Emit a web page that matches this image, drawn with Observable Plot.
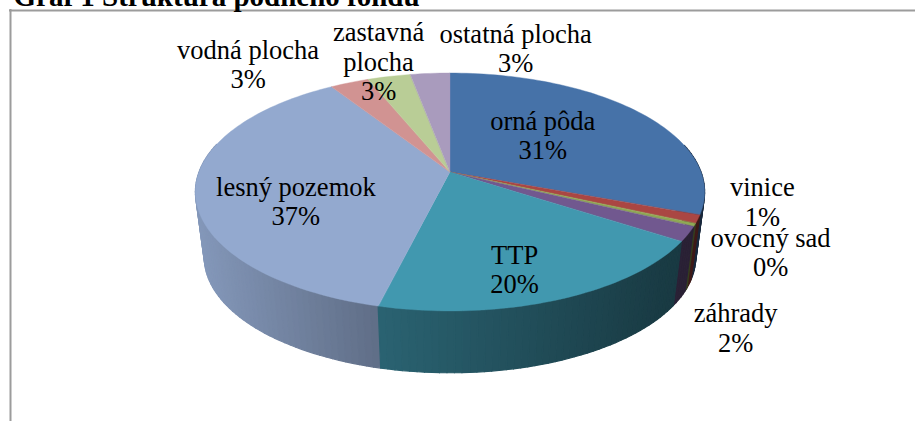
<!DOCTYPE html>
<html><head><meta charset="utf-8">
<script src="https://cdn.jsdelivr.net/npm/d3@7"></script>
<script src="https://cdn.jsdelivr.net/npm/@observablehq/plot@0.6"></script>
<style>html,body{margin:0;padding:0;background:#fff;overflow:hidden}svg{display:block}</style>
</head><body><div id="chart"></div>
<script>
const categories = ["orná pôda","vinice","ovocný sad","záhrady","TTP","lesný pozemok","vodná plocha","zastavná plocha","ostatná plocha"];
const shares = [30.7,1.1,0.4,2.0,19.65,37.1,2.9,3.2,2.95];
const colours = ["#4672a8","#aa4643","#8fa954","#71588f","#4198af","#93a9cf","#d19392","#b9cd96","#a99bbd"];
const labelLines = ["orná pôda","vinice","ovocný sad","záhrady","TTP","lesný pozemok","vodná plocha","zastavná\nplocha","ostatná plocha"];
const labelShift = [[-96,22.5],[64,-18],[75.5,26.5],[47,93],[-45,-31],[100,9],[-102,-19],[-11,-15.5],[85,-26]];
const titleText = "Graf 1 Štruktúra pôdneho fondu";

const W = 915, H = 421;
const cx = 450, cy = 172, Rx = 251, Ry = 115.6, k = 0.168, drop = 66, shrinkX = 0.965, shrinkY = 0.97;
const rim = a => { const u = Math.sin(a), v = -Math.cos(a), w = 1 - k*v; return [u/w, v/w]; };
const topPt = a => { const [p,q] = rim(a); return [cx + Rx*p, cy + Ry*q]; };
const botPt = a => { const [p,q] = rim(a); return [cx + shrinkX*Rx*p, cy + drop + shrinkY*Ry*q]; };
const shadeAt = d3.scaleLinear().domain([195,378,650,705]).range([0.9,0.65,0.4,0.36]).clamp(true);
const darken = (c,f) => { const r = d3.rgb(c); return d3.rgb(r.r*f,r.g*f,r.b*f).formatHex(); };

const arcs = d3.pie().sort(null).value(d => d.share)(categories.map((name,i) => ({name, share: shares[i], colour: colours[i], label: labelLines[i], shift: labelShift[i]})));
const step = Math.PI/120;
const wedgeRows = [], sideRows = [];
let strip = 0;
arcs.forEach(arc => {
  const n = Math.max(2, Math.ceil((arc.endAngle-arc.startAngle)/step));
  const stops = d3.range(n+1).map(i => arc.startAngle + (arc.endAngle-arc.startAngle)*i/n);
  stops.forEach(a => { const [x,y] = topPt(a); wedgeRows.push({id: arc.data.name, x0: cx, y0: cy, x, y, fill: arc.data.colour}); });
  d3.pairs(stops).forEach(([a,b]) => {
    const mid = topPt((a+b)/2);
    if (Math.cos((a+b)/2) > 0.25) return;
    const fill = darken(arc.data.colour, shadeAt(mid[0]));
    strip++;
    [a,b].forEach(t => { const p = topPt(t), q = botPt(t); sideRows.push({id: strip, order: mid[1], x1: p[0], y1: p[1], x2: q[0], y2: q[1], fill}); });
  });
});
const byId = d3.groups(sideRows, d => d.id).sort((a,b) => a[1][0].order - b[1][0].order).flatMap(g => g[1]);
const labels = arcs.map(arc => {
  const [x,y] = topPt((arc.startAngle+arc.endAngle)/2);
  return {x: x + arc.data.shift[0], y: y + arc.data.shift[1], text: arc.data.label + "\n" + Math.round(arc.data.share) + "%"};
});

const serif = '"Liberation Serif","Times New Roman",serif';
const plot = Plot.plot({
  width: W, height: H, margin: 0,
  x: {domain: [0,W], range: [0,W], axis: null},
  y: {domain: [0,H], range: [0,H], axis: null},
  color: {type: "identity"},
  marks: [
    Plot.ruleY([10], {x1: 9, x2: W, stroke: "#9c9c9c", strokeWidth: 2}),
    Plot.ruleX([10], {y1: 9, y2: H, stroke: "#9c9c9c", strokeWidth: 2}),
    Plot.area(byId, {x1: "x1", y1: "y1", x2: "x2", y2: "y2", z: "id", fill: "fill", stroke: "fill", strokeWidth: 1.2, curve: "linear"}),
    Plot.area(wedgeRows, {x1: "x0", y1: "y0", x2: "x", y2: "y", z: "id", fill: "fill", stroke: "fill", strokeWidth: 0.4, curve: "linear"}),
    Plot.text(labels, {x: "x", y: "y", text: "text", fontFamily: serif, fontSize: 26.5, lineHeight: 1.113, fill: "#000", textAnchor: "middle", lineAnchor: "middle"}),
    Plot.text([titleText], {x: 13, y: 5, textAnchor: "start", lineAnchor: "bottom", fontFamily: serif, fontSize: 29, fontWeight: "bold", fill: "#000"})
  ]
});
document.getElementById("chart").append(plot);
</script></body></html>
